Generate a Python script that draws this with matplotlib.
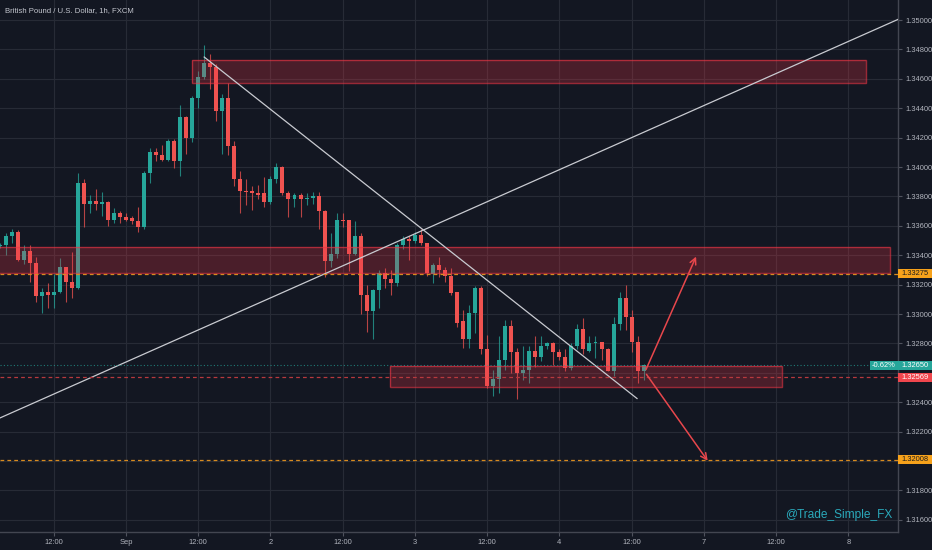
import matplotlib
matplotlib.use('Agg')
import matplotlib.pyplot as plt
from matplotlib.patches import Rectangle
from matplotlib.transforms import blended_transform_factory

# GBPUSD 1h candles, bar index 0 = Aug 31 03:00
opens = [1.3346, 1.3347, 1.3353, 1.3356, 1.3337, 1.3343, 1.3335, 1.3312, 1.3315, 1.3313,
         1.3315, 1.3332, 1.3322, 1.3318, 1.3389, 1.3375, 1.3377, 1.3375, 1.3376, 1.3364,
         1.3369, 1.3366, 1.3365, 1.3363, 1.3359, 1.3396, 1.3410, 1.3408, 1.3405, 1.3418,
         1.3404, 1.3434, 1.3420, 1.3447, 1.3461, 1.3471, 1.3468, 1.3438, 1.3447, 1.3414,
         1.3392, 1.3384, 1.3384, 1.3382, 1.3382, 1.3376, 1.3392, 1.3400, 1.3382, 1.3378,
         1.3381, 1.3378, 1.3379, 1.3380, 1.3370, 1.3336, 1.3341, 1.3364, 1.3364, 1.3341,
         1.3353, 1.3313, 1.3302, 1.3316, 1.3328, 1.3324, 1.3321, 1.3347, 1.3351, 1.3350,
         1.3354, 1.3348, 1.3327, 1.3333, 1.3330, 1.3326, 1.3315, 1.3295, 1.3283, 1.3301,
         1.3318, 1.3276, 1.3251, 1.3256, 1.3269, 1.3292, 1.3274, 1.3260, 1.3262, 1.3275,
         1.3271, 1.3278, 1.3280, 1.3274, 1.3271, 1.3263, 1.3278, 1.3290, 1.3275, 1.3280,
         1.3281, 1.3276, 1.3261, 1.3293, 1.3311, 1.3298, 1.3281, 1.3261]
highs = [1.3348, 1.3355, 1.3358, 1.3357, 1.3347, 1.3347, 1.3339, 1.3318, 1.3321, 1.3327,
         1.3338, 1.3332, 1.3342, 1.3396, 1.3392, 1.3381, 1.3385, 1.3383, 1.3377, 1.3372,
         1.3370, 1.3369, 1.3367, 1.3373, 1.3397, 1.3413, 1.3413, 1.3415, 1.3419, 1.3419,
         1.3442, 1.3435, 1.3448, 1.3465, 1.3483, 1.3477, 1.3470, 1.3450, 1.3457, 1.3418,
         1.3397, 1.3392, 1.3387, 1.3388, 1.3393, 1.3394, 1.3403, 1.3401, 1.3384, 1.3382,
         1.3382, 1.3382, 1.3383, 1.3383, 1.3371, 1.3355, 1.3369, 1.3369, 1.3364, 1.3363,
         1.3355, 1.3320, 1.3317, 1.3330, 1.3331, 1.3330, 1.3348, 1.3353, 1.3353, 1.3356,
         1.3358, 1.3348, 1.3335, 1.3339, 1.3332, 1.3331, 1.3315, 1.3303, 1.3306, 1.3319,
         1.3319, 1.3286, 1.3262, 1.3285, 1.3296, 1.3296, 1.3277, 1.3278, 1.3278, 1.3285,
         1.3285, 1.3281, 1.3281, 1.3276, 1.3276, 1.3280, 1.3293, 1.3297, 1.3285, 1.3285,
         1.3281, 1.3277, 1.3298, 1.3315, 1.3320, 1.3303, 1.3285, 1.3266]
lows = [1.3345, 1.3340, 1.3348, 1.3336, 1.3334, 1.3322, 1.3308, 1.3301, 1.3304, 1.3304,
        1.3314, 1.3308, 1.3311, 1.3317, 1.3359, 1.3369, 1.3371, 1.3367, 1.3360, 1.3362,
        1.3362, 1.3363, 1.3361, 1.3356, 1.3358, 1.3389, 1.3404, 1.3404, 1.3404, 1.3399,
        1.3394, 1.3409, 1.3417, 1.3440, 1.3460, 1.3453, 1.3431, 1.3409, 1.3408, 1.3387,
        1.3369, 1.3374, 1.3371, 1.3378, 1.3373, 1.3375, 1.3389, 1.3381, 1.3366, 1.3373,
        1.3366, 1.3374, 1.3375, 1.3358, 1.3325, 1.3332, 1.3338, 1.3359, 1.3329, 1.3340,
        1.3300, 1.3288, 1.3283, 1.3304, 1.3318, 1.3313, 1.3319, 1.3344, 1.3337, 1.3348,
        1.3347, 1.3326, 1.3321, 1.3325, 1.3322, 1.3313, 1.3291, 1.3277, 1.3277, 1.3287,
        1.3273, 1.3250, 1.3244, 1.3246, 1.3262, 1.3260, 1.3242, 1.3255, 1.3253, 1.3264,
        1.3268, 1.3276, 1.3265, 1.3269, 1.3261, 1.3262, 1.3276, 1.3273, 1.3274, 1.3270,
        1.3269, 1.3261, 1.3258, 1.3289, 1.3289, 1.3274, 1.3253, 1.3255]
closes = [1.3347, 1.3353, 1.3356, 1.3337, 1.3343, 1.3335, 1.3312, 1.3315, 1.3313, 1.3315,
          1.3332, 1.3322, 1.3318, 1.3389, 1.3375, 1.3377, 1.3375, 1.3376, 1.3364, 1.3369,
          1.3366, 1.3364, 1.3363, 1.3359, 1.3396, 1.3410, 1.3408, 1.3405, 1.3418, 1.3404,
          1.3434, 1.3420, 1.3447, 1.3461, 1.3471, 1.3468, 1.3438, 1.3447, 1.3414, 1.3392,
          1.3384, 1.3383, 1.3382, 1.3381, 1.3376, 1.3392, 1.3400, 1.3382, 1.3378, 1.3381,
          1.3378, 1.3379, 1.3380, 1.3370, 1.3336, 1.3341, 1.3364, 1.3363, 1.3341, 1.3353,
          1.3313, 1.3302, 1.3316, 1.3328, 1.3324, 1.3321, 1.3347, 1.3351, 1.3350, 1.3354,
          1.3348, 1.3328, 1.3333, 1.3330, 1.3326, 1.3314, 1.3294, 1.3283, 1.3301, 1.3318,
          1.3276, 1.3251, 1.3256, 1.3269, 1.3292, 1.3274, 1.3260, 1.3262, 1.3275, 1.3271,
          1.3278, 1.3280, 1.3274, 1.3271, 1.3263, 1.3278, 1.3290, 1.3276, 1.3280, 1.3281,
          1.3276, 1.3261, 1.3293, 1.3311, 1.3298, 1.3281, 1.3261, 1.3265]

# time axis labels (bar index -> label)
tick_idx = [9, 21, 33, 45, 57, 69, 81, 93, 105, 117, 129, 141]
tick_labels = ['12:00', 'Sep', '12:00', '2', '12:00', '3', '12:00', '4', '12:00', '7', '12:00', '8']
price_ticks = [1.316, 1.318, 1.320, 1.322, 1.324, 1.326, 1.328, 1.330,
               1.332, 1.334, 1.336, 1.338, 1.340, 1.342, 1.344, 1.346, 1.348, 1.350]
# tick labels hidden behind the level labels
hidden_ticks = [1.320, 1.326]

# drawings: zones (x0, x1, low, high), trend lines and arrows
zones = [(31.9, 143.9, 1.34571, 1.34726),
         (-2.0, 147.9, 1.33280, 1.33458),
         (64.9, 129.9, 1.32503, 1.32647)]
trend_down_x, trend_down_y = [34.0, 105.9], [1.34748, 1.32425]
trend_up_x, trend_up_y = [0.08, 149.3], [1.32293, 1.35005]
arrow_start = (107.2, 1.32605)
arrow_up_end = (115.9, 1.33408)
arrow_down_end = (117.9, 1.31986)

# horizontal levels: price, line colour, label bg, label text colour
levels = [(1.33275, '#d88b1f', '#f7a21b', '#1d1d1d'),
          (1.32569, '#b8393e', '#f0464d', '#ffffff'),
          (1.32008, '#d88b1f', '#f7a21b', '#1d1d1d')]
last_price = 1.32650
last_change = '-0.62%'

BG = '#131722'
GRID = '#272b36'
TXT = '#b2b5be'
UP = '#26a69a'
DOWN = '#ef5350'
plt.rcParams['font.family'] = ['Liberation Sans', 'DejaVu Sans']

fig = plt.figure(figsize=(9.32, 5.5), dpi=100, facecolor=BG)
ax = fig.add_axes([0, 18 / 550, 898 / 932, 532 / 550], facecolor=BG)
ax.set_xlim(0.08, 149.25)
ax.set_ylim(1.31517, 1.351361)

# candles
idx = list(range(len(closes)))
cols = [UP if c >= o else DOWN for o, c in zip(opens, closes)]
bottoms = [min(o, c) for o, c in zip(opens, closes)]
heights = [max(abs(c - o), 0.00008) for o, c in zip(opens, closes)]
ax.vlines(idx, lows, highs, colors=cols, lw=0.8, alpha=0.75, zorder=2)
ax.bar(idx, heights, bottom=bottoms, width=0.66, color=cols, lw=0, zorder=3)

# zones
for x0, x1, lo, hi in zones:
    ax.add_patch(Rectangle((x0, lo), x1 - x0, hi - lo, facecolor='#f23645', alpha=0.25,
                           lw=0, zorder=5))
    ax.add_patch(Rectangle((x0, lo), x1 - x0, hi - lo, fill=False, edgecolor='#f23645',
                           alpha=0.6, lw=1, zorder=5))

# trend lines
ax.plot(trend_down_x, trend_down_y, color='#c9cbd1', lw=0.9, zorder=6)
ax.plot(trend_up_x, trend_up_y, color='#c9cbd1', lw=0.9, zorder=6)

# arrows
for end in (arrow_up_end, arrow_down_end):
    ax.annotate('', xy=end, xytext=arrow_start,
                arrowprops=dict(arrowstyle='->', color='#e8474c', lw=1.1, mutation_scale=11),
                zorder=7)

# horizontal levels + price labels
trans = blended_transform_factory(ax.transAxes, ax.transData)
box_h = 9 / 14700
box_w = 34 / 898
for price, lc, bg, tc in levels:
    ax.axhline(price, color=lc, lw=0.9, dashes=(3, 2.5), zorder=6)
    ax.add_patch(Rectangle((1.0, price - box_h / 2), box_w, box_h, transform=trans,
                           facecolor=bg, lw=0, clip_on=False, zorder=10))
    ax.text(1.0 + box_w / 2, price, f'{price:.5f}', transform=trans, ha='center', va='center',
            fontsize=5.4, color=tc, clip_on=False, zorder=11)

ax.axhline(last_price, color=UP, lw=0.8, ls=(0, (1, 2)), alpha=0.7, zorder=6)
ax.add_patch(Rectangle((1.0, last_price - box_h / 2), box_w, box_h, transform=trans,
                       facecolor=UP, lw=0, clip_on=False, zorder=10))
ax.text(1.0 + box_w / 2, last_price, f'{last_price:.5f}', transform=trans, ha='center',
        va='center', fontsize=5.4, color='white', clip_on=False, zorder=11)
ax.add_patch(Rectangle((870 / 898, last_price - box_h / 2), 28 / 898, box_h, transform=trans,
                       facecolor=UP, lw=0, clip_on=False, zorder=10))
ax.text(884 / 898, last_price, last_change, transform=trans, ha='center', va='center',
        fontsize=5.4, color='white', clip_on=False, zorder=11)

# axes styling
ax.yaxis.tick_right()
ax.set_yticks(price_ticks)
ax.set_yticklabels(['' if p in hidden_ticks else f'{p:.5f}' for p in price_ticks])
ax.set_xticks(tick_idx)
ax.set_xticklabels(tick_labels)
ax.tick_params(axis='both', colors='#50535e', labelcolor=TXT, labelsize=5.4, length=3,
               width=0.8, pad=2)
ax.grid(True, color=GRID, lw=0.8, zorder=0)
ax.set_axisbelow(True)
for s in ('top', 'left'):
    ax.spines[s].set_visible(False)
for s in ('right', 'bottom'):
    ax.spines[s].set_color('#434651')
    ax.spines[s].set_linewidth(1)

ax.text(5 / 898, 1 - 11 / 532, 'British Pound / U.S. Dollar, 1h, FXCM', transform=ax.transAxes,
        ha='left', va='center', fontsize=5.6, color='#c3c6ce', zorder=12)
ax.text(892 / 898, 1.3163, '@Trade_Simple_FX', transform=trans, ha='right', va='center',
        fontsize=8.6, color='#2aa9bb', zorder=12)

fig.savefig('out.png', dpi=100, facecolor=BG)
